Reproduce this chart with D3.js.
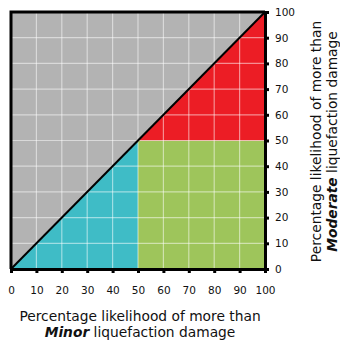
<!DOCTYPE html>
<html>
<head>
<meta charset="utf-8">
<script src="https://cdn.jsdelivr.net/npm/d3@7"></script>
<style>
  body { margin: 0; background: #fff; }
  text { font-family: "DejaVu Sans", Verdana, sans-serif; fill: #111; }
</style>
</head>
<body>
<div id="chart"></div>
<script>
// zones in data units (minor %, moderate %)
const zoneNames = ["unlikely", "low", "minor", "moderate"];
const zonePoints = [
    [[0, 0], [0, 100], [100, 100]],
    [[0, 0], [50, 50], [50, 0]],
    [[50, 0], [50, 50], [100, 50], [100, 0]],
    [[50, 50], [100, 100], [100, 50]]
];
const zoneColors = ["#b3b3b3", "#3fbcc6", "#9ec55b", "#ec1d25"];
const tickValues = [0, 10, 20, 30, 40, 50, 60, 70, 80, 90, 100];

let margin = { top: 12, right: 75, bottom: 72, left: 11 };
let width = 340 - margin.left - margin.right;
let height = 341 - margin.top - margin.bottom;

let svg = d3.select("#chart").append("svg")
    .attr("width", 340)
    .attr("height", 341)
    .append("g")
    .attr("transform", `translate(${margin.left}, ${margin.top})`);

let x = d3.scaleLinear().domain([0, 100]).range([0, width]);
let y = d3.scaleLinear().domain([0, 100]).range([height, 0]);

// zones
svg.selectAll(".zone")
    .data(zonePoints)
    .join("polygon")
    .attr("class", "zone")
    .attr("points", d => d.map(p => [x(p[0]), y(p[1])].join(",")).join(" "))
    .attr("fill", (d, i) => zoneColors[i]);

// grid
svg.selectAll(".vgrid")
    .data(tickValues.slice(1, -1))
    .join("line")
    .attr("class", "vgrid")
    .attr("x1", d => x(d)).attr("x2", d => x(d))
    .attr("y1", 0).attr("y2", height)
    .attr("stroke", "#fff").attr("stroke-opacity", 0.5).attr("stroke-width", 1.2);
svg.selectAll(".hgrid")
    .data(tickValues.slice(1, -1))
    .join("line")
    .attr("class", "hgrid")
    .attr("y1", d => y(d)).attr("y2", d => y(d))
    .attr("x1", 0).attr("x2", width)
    .attr("stroke", "#fff").attr("stroke-opacity", 0.5).attr("stroke-width", 1.2);

// diagonal
svg.append("line")
    .attr("x1", x(0)).attr("y1", y(0))
    .attr("x2", x(100)).attr("y2", y(100))
    .attr("stroke", "#000").attr("stroke-width", 2);

// frame top / left
svg.append("path")
    .attr("d", `M${x(0)},${y(0)} V${y(100)} H${x(100)}`)
    .attr("fill", "none").attr("stroke", "#000").attr("stroke-width", 3);

// axes
let xAxis = d3.axisBottom(x).tickValues(tickValues).tickSize(4).tickPadding(14);
let yAxis = d3.axisRight(y).tickValues(tickValues).tickSize(4).tickPadding(6);

let gx = svg.append("g")
    .attr("transform", `translate(0, ${height})`)
    .call(xAxis);
let gy = svg.append("g")
    .attr("transform", `translate(${width}, 0)`)
    .call(yAxis);

[gx, gy].forEach(g => {
    g.select(".domain").attr("stroke", "#000").attr("stroke-width", 3);
    g.selectAll(".tick line").attr("stroke", "#000").attr("stroke-width", 3);
    g.selectAll(".tick text").style("font-size", "10.5px").attr("fill", "#222");
});

// axis titles
let xt = svg.append("text")
    .attr("text-anchor", "middle")
    .attr("x", width / 2 + 2)
    .attr("y", height + 52)
    .style("font-size", "13.8px");
xt.append("tspan").attr("x", width / 2 + 2).text("Percentage likelihood of more than");
xt.append("tspan").attr("x", width / 2 + 2).attr("dy", 16)
    .append("tspan").style("font-weight", "bold").style("font-style", "italic").text("Minor");
xt.append("tspan").text(" liquefaction damage");

let yt = svg.append("text")
    .attr("text-anchor", "middle")
    .attr("transform", `translate(${width + 56}, ${height / 2 + 1}) rotate(-90)`)
    .style("font-size", "13.8px");
yt.append("tspan").attr("x", 0).text("Percentage likelihood of more than");
yt.append("tspan").attr("x", 0).attr("dy", 16)
    .style("font-weight", "bold").style("font-style", "italic").text("Moderate");
yt.append("tspan").text(" liquefaction damage");
</script>
</body>
</html>
